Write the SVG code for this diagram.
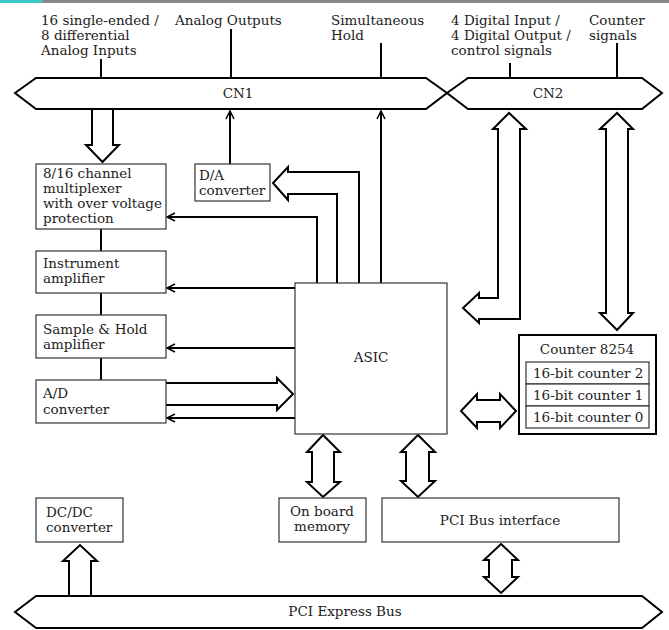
<svg xmlns="http://www.w3.org/2000/svg" width="669" height="630" viewBox="0 0 669 630">
<style>
text{font-family:"DejaVu Serif","Liberation Serif",serif;font-size:13.5px;fill:#222}
.c{text-anchor:middle}
.box{fill:#fff;stroke:#333;stroke-width:1.2}
.bus{fill:#fff;stroke:#000;stroke-width:2}
.ln{fill:none;stroke:#000;stroke-width:2}
.fat{fill:#fff;stroke:#000;stroke-width:2;stroke-linejoin:miter}
.ah{fill:none;stroke:#000;stroke-width:1.5}
</style>
<rect x="0" y="0" width="669" height="630" fill="#fff"/>
<rect x="0" y="0" width="669" height="3" fill="#888"/>
<rect x="0" y="0" width="42" height="3" fill="#3cc8c8"/>

<g id="labels">
<text x="41" y="25">16 single-ended /</text>
<text x="41" y="40">8 differential</text>
<text x="41" y="55">Analog Inputs</text>
<text x="175" y="25">Analog Outputs</text>
<text x="331" y="25">Simultaneous</text>
<text x="331" y="40">Hold</text>
<text x="451" y="25">4 Digital Input /</text>
<text x="451" y="40">4 Digital Output /</text>
<text x="451" y="55">control signals</text>
<text x="589" y="25">Counter</text>
<text x="589" y="40">signals</text>
</g>

<g id="connectors">
<line class="ln" x1="101" y1="59" x2="101" y2="78"/>
<line class="ln" x1="231" y1="29" x2="231" y2="78"/>
<line class="ln" x1="381" y1="43" x2="381" y2="78"/>
<line class="ln" x1="510" y1="63" x2="510" y2="78"/>
<line class="ln" x1="617" y1="43" x2="617" y2="78"/>
<line class="ln" x1="101" y1="229" x2="101" y2="251"/>
<line class="ln" x1="101" y1="293" x2="101" y2="315"/>
<line class="ln" x1="101" y1="358" x2="101" y2="380"/>
<!-- D/A to CN1 -->
<line class="ln" x1="230" y1="164" x2="230" y2="111"/>
<polyline class="ah" points="226,119 230,111 234,119"/>
<!-- ASIC to CN1 (simultaneous hold) -->
<line class="ln" x1="381" y1="283" x2="381" y2="111"/>
<polyline class="ah" points="377,119 381,111 385,119"/>
<!-- ASIC to mux -->
<polyline class="ln" points="317,283 317,217 167,217"/>
<polyline class="ah" points="175,213 167,217 175,221"/>
<line class="ln" x1="295" y1="288" x2="167" y2="288"/>
<polyline class="ah" points="175,284 167,288 175,292"/>
<line class="ln" x1="295" y1="348" x2="167" y2="348"/>
<polyline class="ah" points="175,344 167,348 175,352"/>
<line class="ln" x1="295" y1="418" x2="167" y2="418"/>
<polyline class="ah" points="175,414 167,418 175,422"/>
<!-- fat arrows -->
<polyline class="fat" points="92,110 92,145 86,145 102.5,162 119,145 113,145 113,110"/>
<polyline class="fat" points="359,283 359,172 288,172 288,167 273,183 288,200 288,194 337,194 337,283"/>
<polyline class="fat" points="166,383 277,383 277,378 293,394 277,410 277,405 166,405"/>
<polygon class="fat" points="498,129 493,129 509,113 526,129 520,129 520,319 479,319 479,323 463,308 479,293 479,298 498,298"/>
<polygon class="fat" points="606,129 600,129 617,113 633,129 628,129 628,313 633,313 617,330 600,313 606,313"/>
<polygon class="fat" points="461,411 477,394 477,400 500,400 500,394 516,411 500,428 500,422 477,422 477,428"/>
<polygon class="fat" points="323,435 340,452 334,452 334,482 340,482 323,497 307,482 312,482 312,452 307,452"/>
<polygon class="fat" points="418,435 435,452 429,452 429,481 435,481 418,497 401,481 406,481 406,452 401,452"/>
<polygon class="fat" points="501,544 518,560 512,560 512,577 518,577 501,593 484,577 489,577 489,560 484,560"/>
<polyline class="fat" points="69,596 69,561 63,561 80,545 97,561 91,561 91,596"/>
</g>

<g id="cn1">
<polygon class="bus" points="15,93 36,78 426,78 447,93 426,109 36,109"/>
<text class="c" x="238" y="98">CN1</text>
</g>
<g id="cn2">
<polygon class="bus" points="447,93 468,78 642,78 662,93 642,109 468,109"/>
<text class="c" x="548" y="98">CN2</text>
</g>
<g id="pcie">
<polygon class="bus" points="15,612 36,596 642,596 662,612 642,628 36,628"/>
<text class="c" x="345" y="616">PCI Express Bus</text>
</g>
<!-- redraw fat arrow tops over buses -->
<g id="mux">
<rect class="box" x="36" y="164" width="130" height="65"/>
<text x="43" y="178">8/16 channel</text>
<text x="43" y="193">multiplexer</text>
<text x="43" y="208">with over voltage</text>
<text x="43" y="223">protection</text>
</g>
<g id="da">
<rect class="box" x="195" y="164" width="75" height="37"/>
<text x="199" y="180">D/A</text>
<text x="199" y="195">converter</text>
</g>
<g id="inst">
<rect class="box" x="36" y="251" width="130" height="42"/>
<text x="43" y="268">Instrument</text>
<text x="43" y="283">amplifier</text>
</g>
<g id="sh">
<rect class="box" x="36" y="315" width="130" height="43"/>
<text x="43" y="334">Sample &amp; Hold</text>
<text x="43" y="349">amplifier</text>
</g>
<g id="ad">
<rect class="box" x="36" y="380" width="130" height="43"/>
<text x="43" y="398">A/D</text>
<text x="43" y="414">converter</text>
</g>
<g id="asic">
<rect class="box" x="295" y="283" width="152" height="151"/>
<text class="c" x="371" y="362">ASIC</text>
</g>
<g id="counter">
<rect x="519" y="335" width="137" height="99" fill="#fff" stroke="#000" stroke-width="2"/>
<text class="c" x="587" y="354">Counter 8254</text>
<rect class="box" x="526" y="362" width="123" height="22"/>
<rect class="box" x="526" y="384" width="123" height="22"/>
<rect class="box" x="526" y="406" width="123" height="22"/>
<text x="533" y="378">16-bit counter 2</text>
<text x="533" y="400">16-bit counter 1</text>
<text x="533" y="422">16-bit counter 0</text>
</g>
<g id="dcdc">
<rect class="box" x="36" y="498" width="87" height="44"/>
<text x="46" y="517">DC/DC</text>
<text x="46" y="532">converter</text>
</g>
<g id="mem">
<rect class="box" x="279" y="498" width="87" height="44"/>
<text class="c" x="322" y="516">On board</text>
<text class="c" x="322" y="531">memory</text>
</g>
<g id="pci">
<rect class="box" x="382" y="498" width="237" height="44"/>
<text class="c" x="500" y="525">PCI Bus interface</text>
</g>
</svg>
